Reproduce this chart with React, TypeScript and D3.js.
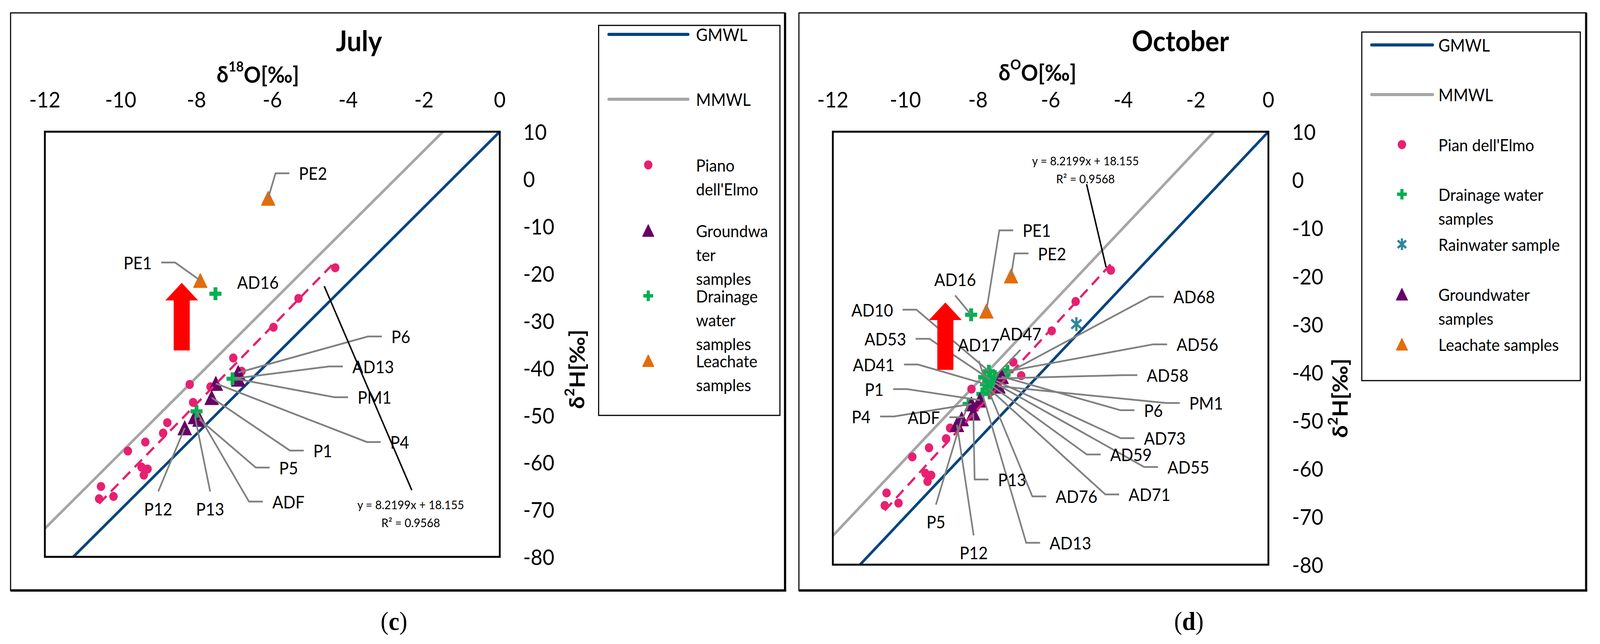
import React from "react";
import * as d3 from "d3";

const FONT = "Lato, 'Open Sans', sans-serif";

const xTicks = [-12, -10, -8, -6, -4, -2, 0];
const yTicks = [10, 0, -10, -20, -30, -40, -50, -60, -70, -80];

type Pt = { id: string; x: number; y: number };
type Kind = "right" | "left" | "above" | "below" | "none";
type Label = { id: string; x: number; y: number; kind: Kind };
type Shape = "circle" | "triangle" | "plus" | "asterisk";

// Piano dell'Elmo samples (same set in both campaigns)
const pianoDellElmo: Pt[] = [
  [-4.34, -18.8], [-5.31, -25.3], [-5.97, -31.4], [-7.03, -37.9], [-6.81, -40.7],
  [-8.18, -43.5], [-7.63, -44.0], [-8.09, -47.3], [-8.77, -51.6], [-8.88, -53.8],
  [-9.35, -55.7], [-9.81, -57.6], [-9.45, -61.0], [-9.29, -61.4], [-9.39, -62.7],
  [-10.52, -65.1], [-10.57, -67.7], [-10.19, -67.2],
].map(([x, y], i) => ({ id: "E" + i, x, y }));

// July
const julyGroundwater: Pt[] = [
  { id: "P6", x: -6.9, y: -41.0 },
  { id: "PM1", x: -6.9, y: -42.4 },
  { id: "P4", x: -7.49, y: -43.3 },
  { id: "P1", x: -7.6, y: -46.3 },
  { id: "P13", x: -8.04, y: -50.35 },
  { id: "P5", x: -7.92, y: -50.9 },
  { id: "P12", x: -8.31, y: -52.7 },
];
const julyDrainage: Pt[] = [
  { id: "AD16", x: -7.5, y: -24.3 },
  { id: "AD13", x: -7.05, y: -42.3 },
  { id: "ADF", x: -8.0, y: -49.2 },
];
const julyLeachate: Pt[] = [
  { id: "PE1", x: -7.9, y: -21.5 },
  { id: "PE2", x: -6.11, y: -4.1 },
];

// October
const octDrainage: Pt[] = [
  { id: "AD10", x: -7.7, y: -39.8 },
  { id: "AD17", x: -7.83, y: -41.0 },
  { id: "AD53", x: -7.66, y: -41.55 },
  { id: "AD41", x: -7.78, y: -42.5 },
  { id: "AD47", x: -7.54, y: -40.9 },
  { id: "AD13", x: -7.88, y: -44.5 },
  { id: "AD76", x: -7.68, y: -44.3 },
  { id: "AD71", x: -7.71, y: -43.3 },
  { id: "AD59", x: -7.6, y: -42.9 },
  { id: "AD55", x: -7.55, y: -42.2 },
  { id: "AD73", x: -7.5, y: -41.8 },
  { id: "AD58", x: -7.45, y: -41.3 },
  { id: "AD56", x: -7.19, y: -39.8 },
  { id: "AD68", x: -7.27, y: -40.5 },
  { id: "ADF", x: -8.26, y: -46.6 },
  { id: "AD16", x: -8.19, y: -28.05 },
];
const octRain: Pt[] = [{ id: "RAIN", x: -5.29, y: -30.0 }];
const octGroundwater: Pt[] = [
  { id: "P6", x: -7.35, y: -40.9 },
  { id: "PM1", x: -7.44, y: -42.9 },
  { id: "P1", x: -7.95, y: -45.8 },
  { id: "P4", x: -8.18, y: -46.6 },
  { id: "P13", x: -8.13, y: -48.5 },
  { id: "P5", x: -8.45, y: -49.7 },
  { id: "P12", x: -8.58, y: -50.9 },
];
const octLeachate: Pt[] = [
  { id: "PE1", x: -7.77, y: -27.3 },
  { id: "PE2", x: -7.09, y: -20.0 },
];

// meteoric water lines and the Piano dell'Elmo trend
const GMWL = { slope: 8, intercept: 10 };
const MMWL = { slope: 8, intercept: 22 };
const TREND = { slope: 8.2199, intercept: 18.155, r2: 0.9568 };

const julyLabels: Label[] = [
  { id: "PE2", x: -5.3, y: 1.2, kind: "right" },
  { id: "PE1", x: -9.18, y: -17.7, kind: "left" },
  { id: "AD16", x: -6.93, y: -21.85, kind: "none" },
  { id: "P6", x: -2.86, y: -33.35, kind: "right" },
  { id: "AD13", x: -3.89, y: -39.7, kind: "right" },
  { id: "PM1", x: -3.75, y: -46.2, kind: "right" },
  { id: "P4", x: -2.89, y: -55.7, kind: "right" },
  { id: "P1", x: -4.92, y: -57.5, kind: "right" },
  { id: "P5", x: -5.82, y: -61.1, kind: "right" },
  { id: "ADF", x: -6.0, y: -68.3, kind: "right" },
  { id: "P13", x: -7.64, y: -69.8, kind: "below" },
  { id: "P12", x: -9.01, y: -69.8, kind: "below" },
];

const octLabels: Label[] = [
  { id: "PE1", x: -6.77, y: -10.5, kind: "right" },
  { id: "PE2", x: -6.35, y: -15.3, kind: "right" },
  { id: "AD16", x: -8.63, y: -20.7, kind: "above" },
  { id: "AD10", x: -10.34, y: -27.0, kind: "left" },
  { id: "AD53", x: -9.98, y: -33.05, kind: "left" },
  { id: "AD17", x: -7.98, y: -34.3, kind: "above" },
  { id: "AD47", x: -6.83, y: -32.0, kind: "above" },
  { id: "AD41", x: -10.3, y: -38.4, kind: "left" },
  { id: "P1", x: -10.6, y: -43.5, kind: "left" },
  { id: "P4", x: -10.96, y: -49.2, kind: "left" },
  { id: "ADF", x: -9.05, y: -49.35, kind: "left" },
  { id: "P5", x: -9.16, y: -71.1, kind: "below" },
  { id: "P12", x: -8.12, y: -77.5, kind: "below" },
  { id: "P13", x: -7.45, y: -62.3, kind: "right" },
  { id: "AD13", x: -6.03, y: -75.45, kind: "right" },
  { id: "AD76", x: -5.86, y: -65.8, kind: "right" },
  { id: "AD71", x: -3.85, y: -65.4, kind: "right" },
  { id: "AD59", x: -4.36, y: -57.1, kind: "right" },
  { id: "AD55", x: -2.78, y: -59.7, kind: "right" },
  { id: "AD73", x: -3.43, y: -53.7, kind: "right" },
  { id: "P6", x: -3.43, y: -47.9, kind: "right" },
  { id: "PM1", x: -2.18, y: -46.4, kind: "right" },
  { id: "AD58", x: -3.35, y: -40.6, kind: "right" },
  { id: "AD56", x: -2.53, y: -34.2, kind: "right" },
  { id: "AD68", x: -2.62, y: -24.3, kind: "right" },
];

const COLORS = {
  gmwl: "#00457e",
  mmwl: "#a6a6a6",
  pink: "#e7206f",
  purple: "#660066",
  green: "#00b050",
  orange: "#e46c0a",
  teal: "#31859c",
  leader: "#808080",
};

type Series = { legend: string[]; shape: Shape; color: string; points: Pt[] };

function Marker({ shape, color, cx, cy, s }: { shape: Shape; color: string; cx: number; cy: number; s: number }) {
  if (shape === "circle") return <circle cx={cx} cy={cy} r={s / 2} fill={color} />;
  if (shape === "triangle") {
    const h = s;
    const w = s * 1.03;
    return (
      <path
        d={`M${cx},${cy - h / 2}L${cx + w / 2},${cy + h / 2}L${cx - w / 2},${cy + h / 2}Z`}
        fill={color}
        stroke={color}
        strokeWidth={2}
        strokeLinejoin="round"
      />
    );
  }
  if (shape === "plus") {
    const t = s * 0.32;
    return (
      <g fill={color}>
        <rect x={cx - s / 2} y={cy - t / 2} width={s} height={t} />
        <rect x={cx - t / 2} y={cy - s / 2} width={t} height={s} />
      </g>
    );
  }
  // asterisk: vertical bar and two diagonals
  const r = s / 2;
  const a = (Math.PI / 180) * 40;
  return (
    <g stroke={color} strokeWidth={6}>
      <line x1={cx} y1={cy - r} x2={cx} y2={cy + r} />
      <line x1={cx - r * Math.cos(a)} y1={cy - r * Math.sin(a)} x2={cx + r * Math.cos(a)} y2={cy + r * Math.sin(a)} />
      <line x1={cx - r * Math.cos(a)} y1={cy + r * Math.sin(a)} x2={cx + r * Math.cos(a)} y2={cy - r * Math.sin(a)} />
    </g>
  );
}

type PanelSpec = {
  key: string;
  frame: [number, number, number, number];
  plot: { left: number; right: number; top: number; bottom: number };
  title: string;
  titlePos: [number, number];
  xSup: string;
  xTitlePos: [number, number];
  yTitlePos: [number, number];
  yTickX: number;
  xTickY: number;
  series: Series[];
  labels: Label[];
  trendText: { x: number; y: number };
  trendLeader: [[number, number], [number, number]];
  arrow: { x: number; top: number; bottom: number };
  legendBox: [number, number, number, number];
  legendRows: number[];
  legendLineX: [number, number];
  legendMarkerX: number;
  legendTextX: number;
  caption: string;
  captionPos: [number, number];
};

const markerSize = (shape: Shape, legend: boolean) => {
  if (shape === "circle") return 23;
  if (shape === "plus") return legend ? 27 : 33;
  if (shape === "asterisk") return legend ? 30 : 36;
  return legend ? 30 : 36;
};

function Panel({ spec }: { spec: PanelSpec }) {
  const { plot } = spec;
  const x = d3.scaleLinear().domain([-12, 0]).range([plot.left, plot.right]);
  const y = d3.scaleLinear().domain([-80, 10]).range([plot.bottom, plot.top]);
  const line = d3.line<[number, number]>().x((d) => x(d[0])).y((d) => y(d[1]));
  const mwl = (m: { slope: number; intercept: number }) =>
    line([[-14, m.slope * -14 + m.intercept], [2, m.slope * 2 + m.intercept]]) || "";

  const [ex0, ex1] = d3.extent(pianoDellElmo, (d) => d.x) as [number, number];
  const trendPath = line([[ex0, TREND.slope * ex0 + TREND.intercept], [ex1, TREND.slope * ex1 + TREND.intercept]]) || "";

  const lookup = new Map<string, Pt>();
  spec.series.forEach((s) => s.points.forEach((p) => lookup.set(p.id, p)));

  const clipId = "clip-" + spec.key;
  const [fx0, fy0, fx1, fy1] = spec.frame;
  const [lx0, ly0, lx1, ly1] = spec.legendBox;

  const leaderPath = (lb: Label) => {
    const p = lookup.get(lb.id);
    if (!p || lb.kind === "none") return null;
    const tx = x(lb.x);
    const ty = y(lb.y);
    const px = x(p.x);
    const py = y(p.y);
    let pts: [number, number][] = [];
    if (lb.kind === "right") pts = [[tx - 26, ty], [tx - 64, ty], [px, py]];
    if (lb.kind === "left") pts = [[tx + 26, ty], [tx + 64, ty], [px, py]];
    if (lb.kind === "above") pts = [[tx, ty + 41], [px, py]];
    if (lb.kind === "below") pts = [[tx, ty - 44], [px, py]];
    return d3.line()(pts) || "";
  };

  const anchorFor = (k: Kind) => (k === "right" || k === "none" ? "start" : k === "left" ? "end" : "middle");

  const ax = x(spec.arrow.x);
  const aTop = y(spec.arrow.top);
  const aBot = y(spec.arrow.bottom);
  const arrowPts: [number, number][] = [
    [ax, aTop], [ax + 45, aTop + 45], [ax + 22, aTop + 45], [ax + 22, aBot],
    [ax - 22, aBot], [ax - 22, aTop + 45], [ax - 45, aTop + 45],
  ];

  return (
    <g>
      {/* outer panel frame */}
      <rect x={fx0} y={fy0} width={fx1 - fx0} height={fy1 - fy0} fill="white" stroke="black" strokeWidth={3} />
      <line x1={fx1} y1={fy0} x2={fx1} y2={fy1 + 3} stroke="black" strokeWidth={6} />
      <line x1={fx0} y1={fy1} x2={fx1 + 3} y2={fy1} stroke="black" strokeWidth={6} />

      <defs>
        <clipPath id={clipId}>
          <rect x={plot.left} y={plot.top} width={plot.right - plot.left} height={plot.bottom - plot.top} />
        </clipPath>
      </defs>

      {/* titles */}
      <text x={spec.titlePos[0]} y={spec.titlePos[1]} textAnchor="middle" dominantBaseline="central" fontFamily={FONT} fontWeight={700} fontSize={72}>
        {spec.title}
      </text>
      <text x={spec.xTitlePos[0]} y={spec.xTitlePos[1]} textAnchor="middle" dominantBaseline="central" fontFamily={FONT} fontWeight={700} fontSize={58}>
        δ<tspan dy={-20} fontSize={36}>{spec.xSup}</tspan>
        <tspan dy={20}>O[‰]</tspan>
      </text>
      <text
        transform={`translate(${spec.yTitlePos[0]},${spec.yTitlePos[1]}) rotate(-90)`}
        textAnchor="middle"
        dominantBaseline="central"
        fontFamily={FONT}
        fontWeight={700}
        fontSize={58}
      >
        δ<tspan dy={-20} fontSize={36}>2</tspan>
        <tspan dy={20}>H[‰]</tspan>
      </text>

      {/* tick labels */}
      {xTicks.map((t) => (
        <text key={"x" + t} x={x(t)} y={spec.xTickY} textAnchor="middle" dominantBaseline="central" fontFamily={FONT} fontSize={56}>
          {t}
        </text>
      ))}
      {yTicks.map((t) => (
        <text key={"y" + t} x={spec.yTickX} y={y(t)} dominantBaseline="central" fontFamily={FONT} fontSize={56}>
          {t}
        </text>
      ))}

      {/* plot area */}
      <rect x={plot.left} y={plot.top} width={plot.right - plot.left} height={plot.bottom - plot.top} fill="white" />
      <g clipPath={`url(#${clipId})`}>
        <path d={mwl(MMWL)} stroke={COLORS.mmwl} strokeWidth={7} fill="none" />
        <path d={mwl(GMWL)} stroke={COLORS.gmwl} strokeWidth={7} fill="none" />
        {spec.series.map((s, i) => (
          <g key={i}>
            {s.points.map((p) => (
              <Marker key={p.id} shape={s.shape} color={s.color} cx={x(p.x)} cy={y(p.y)} s={markerSize(s.shape, false)} />
            ))}
          </g>
        ))}
        <path d={trendPath} stroke={COLORS.pink} strokeWidth={6} strokeDasharray="28 17" fill="none" />
      </g>
      <rect x={plot.left} y={plot.top} width={plot.right - plot.left} height={plot.bottom - plot.top} fill="none" stroke="black" strokeWidth={5} />

      {/* data labels with leader lines */}
      {spec.labels.map((lb) => {
        const d = leaderPath(lb);
        return d ? <path key={"l" + lb.id} d={d} stroke={COLORS.leader} strokeWidth={4.5} fill="none" /> : null;
      })}
      {spec.labels.map((lb) => (
        <text key={"t" + lb.id} x={x(lb.x)} y={y(lb.y)} textAnchor={anchorFor(lb.kind)} dominantBaseline="central" fontFamily={FONT} fontSize={44}>
          {lb.id}
        </text>
      ))}

      {/* trend equation */}
      <path d={line(spec.trendLeader) || ""} stroke="black" strokeWidth={4} fill="none" />
      <text x={x(spec.trendText.x)} y={y(spec.trendText.y)} textAnchor="middle" dominantBaseline="central" fontFamily={FONT} fontSize={31}>
        {`y = ${TREND.slope}x + ${TREND.intercept}`}
      </text>
      <text x={x(spec.trendText.x)} y={y(spec.trendText.y) + 46} textAnchor="middle" dominantBaseline="central" fontFamily={FONT} fontSize={31}>
        {`R² = ${TREND.r2}`}
      </text>

      {/* red arrow */}
      <polygon points={arrowPts.map((p) => p.join(",")).join(" ")} fill="#ff0000" />

      {/* legend */}
      <rect x={lx0} y={ly0} width={lx1 - lx0} height={ly1 - ly0} fill="white" stroke="black" strokeWidth={3} />
      {[
        { legend: ["GMWL"], color: COLORS.gmwl },
        { legend: ["MMWL"], color: COLORS.mmwl },
      ].map((l, i) => (
        <g key={"ll" + i}>
          <line x1={spec.legendLineX[0]} x2={spec.legendLineX[1]} y1={spec.legendRows[i]} y2={spec.legendRows[i]} stroke={l.color} strokeWidth={8} strokeLinecap="round" />
          <text x={spec.legendTextX} y={spec.legendRows[i]} dominantBaseline="central" fontFamily={FONT} fontSize={44}>
            {l.legend[0]}
          </text>
        </g>
      ))}
      {spec.series.map((s, i) => {
        const ry = spec.legendRows[i + 2];
        return (
          <g key={"ls" + i}>
            <Marker shape={s.shape} color={s.color} cx={spec.legendMarkerX} cy={ry} s={markerSize(s.shape, true)} />
            <text x={spec.legendTextX} y={ry} dominantBaseline="central" fontFamily={FONT} fontSize={43}>
              {s.legend.map((t, j) => (
                <tspan key={j} x={spec.legendTextX} dy={j === 0 ? 0 : 61}>
                  {t}
                </tspan>
              ))}
            </text>
          </g>
        );
      })}

      {/* panel caption */}
      <text x={spec.captionPos[0]} y={spec.captionPos[1]} textAnchor="middle" dominantBaseline="central" fontFamily="'Liberation Serif', serif" fontSize={66}>
        (<tspan fontWeight={700}>{spec.caption}</tspan>)
      </text>
    </g>
  );
}

const julySpec: PanelSpec = {
  key: "july",
  frame: [29, 33, 2152, 1511],
  plot: { left: 123, right: 1370, top: 337, bottom: 1425 },
  title: "July",
  titlePos: [984, 103],
  xSup: "18",
  xTitlePos: [707, 189],
  yTitlePos: [1580, 945],
  yTickX: 1434,
  xTickY: 254,
  series: [
    { legend: ["Piano", "dell'Elmo"], shape: "circle", color: COLORS.pink, points: pianoDellElmo },
    { legend: ["Groundwa", "ter", "samples"], shape: "triangle", color: COLORS.purple, points: julyGroundwater },
    { legend: ["Drainage", "water", "samples"], shape: "plus", color: COLORS.green, points: julyDrainage },
    { legend: ["Leachate", "samples"], shape: "triangle", color: COLORS.orange, points: julyLeachate },
  ],
  labels: julyLabels,
  trendText: { x: -2.35, y: -68.9 },
  trendLeader: [[-4.63, -22.7], [-2.32, -65.9]],
  arrow: { x: -8.39, top: -22.0, bottom: -36.3 },
  legendBox: [1641, 65, 2138, 1063],
  legendRows: [88, 254, 422, 590, 757, 923],
  legendLineX: [1669, 1886],
  legendMarkerX: 1777,
  legendTextX: 1908,
  caption: "c",
  captionPos: [1080, 1589],
};

const octSpec: PanelSpec = {
  key: "oct",
  frame: [2190, 33, 4348, 1511],
  plot: { left: 2283, right: 3477, top: 337, bottom: 1445 },
  title: "October",
  titlePos: [3236, 103],
  xSup: "O",
  xTitlePos: [2844, 184],
  yTitlePos: [3672, 1019],
  yTickX: 3542,
  xTickY: 254,
  series: [
    { legend: ["Pian dell'Elmo"], shape: "circle", color: COLORS.pink, points: pianoDellElmo },
    { legend: ["Drainage water", "samples"], shape: "plus", color: COLORS.green, points: octDrainage },
    { legend: ["Rainwater sample"], shape: "asterisk", color: COLORS.teal, points: octRain },
    { legend: ["Groundwater", "samples"], shape: "triangle", color: COLORS.purple, points: octGroundwater },
    { legend: ["Leachate samples"], shape: "triangle", color: COLORS.orange, points: octLeachate },
  ],
  labels: octLabels,
  trendText: { x: -5.04, y: 4.0 },
  trendLeader: [[-5.01, -0.9], [-4.47, -18.2]],
  arrow: { x: -8.9, top: -25.5, bottom: -39.5 },
  legendBox: [3733, 82, 4332, 974],
  legendRows: [115, 242, 370, 497, 625, 753, 881],
  legendLineX: [3760, 3927],
  legendMarkerX: 3843,
  legendTextX: 3943,
  caption: "d",
  captionPos: [3259, 1589],
};

export default function App() {
  return (
    <div>
      <style>{`html,body{margin:0;padding:0;background:#fff;overflow:hidden}`}</style>
      <svg
        width="100vw"
        height="100vh"
        viewBox="0 0 4386 1648"
        preserveAspectRatio="none"
        style={{ display: "block", background: "white", width: "100vw", height: "100vh" }}
      >
        <Panel spec={julySpec} />
        <Panel spec={octSpec} />
      </svg>
    </div>
  );
}
